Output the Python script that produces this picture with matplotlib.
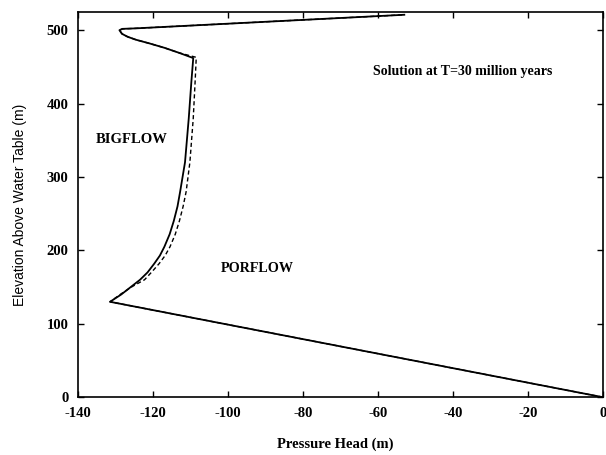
import numpy as np
import matplotlib
matplotlib.use("Agg")
import matplotlib.pyplot as plt

# BIGFLOW (solid) and PORFLOW (dashed) pressure head profiles
big_p = [0, -131.5, -128.5, -126.0, -123.5, -121.5, -119.7, -118.2, -117.0,
         -115.6, -114.5, -113.5, -112.8, -111.5, -110.5, -109.8, -109.3,
         -113.0, -117.0, -121.0, -124.6, -126.8, -128.3, -129.0, -128.2,
         -124.6, -53.0]
big_z = [0, 130, 140, 150, 160, 170, 182, 193, 205,
         222, 240, 260, 280, 320, 380, 430, 462,
         469, 476, 482, 487, 491, 495, 500, 501.8,
         502.5, 521]

por_p = [0, -131.5, -128.5, -125.5, -122.3, -120.3, -118.4, -116.8, -115.5,
         -114.1, -113.0, -112.0, -111.2, -110.2, -109.3, -108.8, -108.5,
         -113.0, -117.0, -121.0, -124.6, -126.8, -128.3, -129.0, -128.2,
         -124.6, -53.0]
por_z = [0, 130, 141, 151, 160, 171, 182, 193, 205,
         222, 240, 260, 280, 320, 380, 430, 463,
         469, 476, 482, 487, 491, 495, 500, 501.8,
         502.5, 521]

xticks = [-140, -120, -100, -80, -60, -40, -20, 0]
yticks = [0, 100, 200, 300, 400, 500]

plt.rcParams['font.family'] = ['Liberation Serif', 'DejaVu Serif']
plt.rcParams['axes.unicode_minus'] = False

fig = plt.figure(figsize=(6.06, 4.55), dpi=100)
ax = fig.add_axes([0.129, 0.127, 0.866, 0.847])

ax.plot(big_p, big_z, color='black', lw=1.3, ls='-')
ax.plot(por_p, por_z, color='black', lw=1.0, ls=(0, (3, 2)))

ax.set_xlim(-140, 0)
ax.set_ylim(0, 525)
ax.set_xticks(xticks)
ax.set_yticks(yticks)
ax.tick_params(direction='in', top=True, right=True, length=4, width=1,
               labelsize=10.5, pad=7)
for lab in ax.get_xticklabels() + ax.get_yticklabels():
    lab.set_fontweight('bold')
for s in ax.spines.values():
    s.set_linewidth(1.2)

ax.set_xlabel('Pressure Head (m)', fontsize=10.5, fontweight='bold')
ax.xaxis.set_label_coords(0.49, -0.105)
ax.set_ylabel('Elevation Above Water Table (m)', fontsize=10,
              family=['Liberation Sans', 'DejaVu Sans'], labelpad=14)

ax.text(-37.5, 444, 'Solution at T=30 million years', fontsize=10,
        fontweight='bold', ha='center', va='center')
ax.text(-135.2, 351, 'BIGFLOW', fontsize=10.5, fontweight='bold',
        ha='left', va='center')
ax.text(-102, 175, 'PORFLOW', fontsize=10.2, fontweight='bold',
        ha='left', va='center')

fig.savefig('out.png', dpi=100)
